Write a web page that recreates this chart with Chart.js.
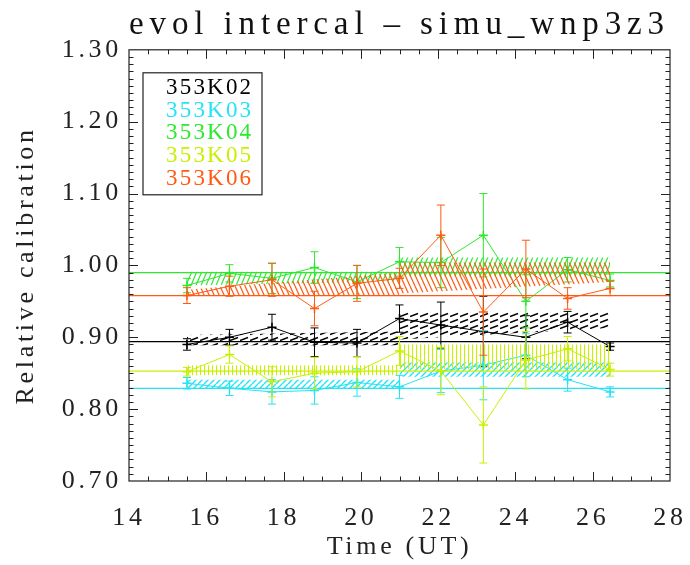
<!DOCTYPE html>
<html>
<head>
<meta charset="utf-8">
<script src="https://cdn.jsdelivr.net/npm/chart.js@4.4.1/dist/chart.umd.min.js"></script>
<style>
  html, body { margin: 0; padding: 0; background: #fff; }
  #wrap { width: 690px; height: 565px; }
</style>
</head>
<body>
<div id="wrap"><canvas id="chart"></canvas></div>
<script>
// time of each measurement (UT)
const times = [15.5, 16.6, 17.7, 18.8, 19.9, 21.0, 22.07, 23.17, 24.27, 25.35, 26.45];
const names = ['353K02', '353K03', '353K04', '353K05', '353K06'];

const k02 = [0.890, 0.900, 0.914, 0.893, 0.892, 0.926, 0.917, 0.908, 0.900, 0.921, 0.887];
const k02Err = [0.008, 0.011, 0.018, 0.020, 0.019, 0.019, 0.032, 0.049, 0.030, 0.015, 0.005];
const k03 = [0.836, 0.829, 0.824, 0.826, 0.837, 0.831, 0.853, 0.861, 0.875, 0.841, 0.824];
const k03Err = [0.008, 0.010, 0.017, 0.019, 0.019, 0.016, 0.030, 0.048, 0.030, 0.016, 0.007];
const k04 = [0.972, 0.989, 0.982, 0.997, 0.977, 1.005, 1.004, 1.042, 0.950, 0.994, 0.979];
const k04Err = [0.010, 0.012, 0.021, 0.022, 0.023, 0.020, 0.035, 0.058, 0.037, 0.017, 0.009];
const k05 = [0.852, 0.876, 0.838, 0.850, 0.852, 0.881, 0.853, 0.778, 0.868, 0.884, 0.855];
const k05Err = [0.006, 0.012, 0.021, 0.022, 0.021, 0.020, 0.033, 0.053, 0.040, 0.017, 0.009];
const k06 = [0.958, 0.971, 0.980, 0.940, 0.975, 0.982, 1.042, 0.935, 0.995, 0.954, 0.968];
const k06Err = [0.011, 0.014, 0.023, 0.024, 0.025, 0.014, 0.042, 0.060, 0.040, 0.015, 0.010];

// overall mean per bolometer (horizontal lines)
const means = [0.894, 0.829, 0.990, 0.853, 0.958];

// hatched bands: two periods, values at [start1, end1, start2, end2]
const bandEdges = [15.5, 21.0, 26.45];
const k02Lo = [0.889, 0.889, 0.897, 0.913];
const k02Hi = [0.903, 0.908, 0.936, 0.936];
const k03Lo = [0.829, 0.829, 0.845, 0.845];
const k03Hi = [0.841, 0.841, 0.865, 0.865];
const k04Lo = [0.972, 0.978, 0.985, 0.985];
const k04Hi = [0.991, 0.991, 1.011, 1.011];
const k05Lo = [0.847, 0.847, 0.856, 0.856];
const k05Hi = [0.861, 0.861, 0.890, 0.890];
const k06Lo = [0.958, 0.958, 0.961, 0.977];
const k06Hi = [0.966, 0.990, 1.004, 1.004];

const xMin = 14, xMax = 28, xStep = 2, xMinor = 0.5;
const yMin = 0.70, yMax = 1.30, yStep = 0.1, yMinor = 0.01;

const FONT = "'Liberation Serif', 'Times New Roman', serif";

function makeHatch(color, kind, w, h, lw) {
  const c = document.createElement('canvas');
  c.width = w; c.height = h;
  const g = c.getContext('2d');
  g.strokeStyle = color;
  g.lineWidth = lw;
  g.beginPath();
  if (kind === 'vert') {
    g.moveTo(0.5, 0); g.lineTo(0.5, h);
  } else if (kind === 'dash') {
    g.moveTo(0, h - 1.5); g.lineTo(w - 2, 1.5);
  } else {
    for (let k = -1; k <= 1; k++) {
      if (kind === 'slash') { g.moveTo(k * w, h); g.lineTo(k * w + w, 0); }
      else { g.moveTo(k * w, 0); g.lineTo(k * w + w, h); }
    }
  }
  g.stroke();
  return g.createPattern(c, 'repeat');
}

const series = [
  { name: names[0], color: '#000000', vals: k02, errs: k02Err, lo: k02Lo, hi: k02Hi, mean: means[0], hatch: ['dash', 10, 6, 1.4] },
  { name: names[1], color: '#25e3f5', vals: k03, errs: k03Err, lo: k03Lo, hi: k03Hi, mean: means[1], hatch: ['slash', 6, 6, 1.4] },
  { name: names[2], color: '#2ee82e', vals: k04, errs: k04Err, lo: k04Lo, hi: k04Hi, mean: means[2], hatch: ['slash', 5, 12, 1.2] },
  { name: names[3], color: '#c8f000', vals: k05, errs: k05Err, lo: k05Lo, hi: k05Hi, mean: means[3], hatch: ['vert', 4, 4, 1.2] },
  { name: names[4], color: '#ff5a14', vals: k06, errs: k06Err, lo: k06Lo, hi: k06Hi, mean: means[4], hatch: ['back', 5, 11, 1.2] }
];

const datasets = [];
for (const s of series) {
  const pattern = makeHatch(s.color, s.hatch[0], s.hatch[1], s.hatch[2], s.hatch[3]);
  for (let seg = 0; seg < 2; seg++) {
    datasets.push({
      data: [{ x: bandEdges[seg], y: s.lo[2 * seg] }, { x: bandEdges[seg + 1], y: s.lo[2 * seg + 1] }],
      borderColor: 'rgba(0,0,0,0)', pointRadius: 0, fill: false
    });
    datasets.push({
      data: [{ x: bandEdges[seg], y: s.hi[2 * seg] }, { x: bandEdges[seg + 1], y: s.hi[2 * seg + 1] }],
      borderColor: 'rgba(0,0,0,0)', pointRadius: 0, fill: '-1', backgroundColor: pattern
    });
  }
  datasets.push({
    data: [{ x: xMin, y: s.mean }, { x: xMax, y: s.mean }],
    borderColor: s.color, borderWidth: 1.2, pointRadius: 0, fill: false
  });
  datasets.push({
    label: s.name,
    data: times.map((t, i) => ({ x: t, y: s.vals[i] })),
    errs: s.errs,
    borderColor: s.color, borderWidth: 1, fill: false,
    pointStyle: 'cross', pointRadius: 4.5, pointBorderWidth: 1.5,
    pointBorderColor: s.color
  });
}
// later datasets painted on top
datasets.forEach((d, i) => { d.order = -i; });

const errorBars = {
  id: 'errorBars',
  afterDatasetDraw(chart, args) {
    const ds = chart.data.datasets[args.index];
    if (!ds.errs) return;
    const xs = chart.scales.x, ys = chart.scales.y, ctx = chart.ctx;
    ctx.save();
    ctx.strokeStyle = ds.borderColor;
    ctx.lineWidth = 1;
    ds.data.forEach((p, i) => {
      const px = xs.getPixelForValue(p.x);
      const top = ys.getPixelForValue(p.y + ds.errs[i]);
      const bot = ys.getPixelForValue(p.y - ds.errs[i]);
      ctx.beginPath();
      ctx.moveTo(px, top); ctx.lineTo(px, bot);
      ctx.moveTo(px - 4, top); ctx.lineTo(px + 4, top);
      ctx.moveTo(px - 4, bot); ctx.lineTo(px + 4, bot);
      ctx.stroke();
    });
    ctx.restore();
  }
};

// text spacing per drawing phase (title, then axes)
const spacing = {
  id: 'spacing',
  beforeDraw(chart) { chart.ctx.letterSpacing = '6px'; },
  beforeDatasetsDraw(chart) { chart.ctx.letterSpacing = '0px'; },
  afterDatasetsDraw(chart) { chart.ctx.letterSpacing = '3.7px'; }
};

// box frame with inward ticks on all sides
const frame = {
  id: 'frame',
  afterDraw(chart) {
    const { ctx, chartArea: a } = chart;
    const xs = chart.scales.x, ys = chart.scales.y;
    ctx.save();
    ctx.strokeStyle = '#222';
    ctx.lineWidth = 1.2;
    ctx.strokeRect(a.left, a.top, a.right - a.left, a.bottom - a.top);
    ctx.lineWidth = 1;
    ctx.beginPath();
    const nx = Math.round((xMax - xMin) / xMinor);
    for (let i = 1; i < nx; i++) {
      const v = xMin + i * xMinor;
      const len = (i % Math.round(xStep / xMinor) === 0) ? 9 : 4.5;
      const px = Math.round(xs.getPixelForValue(v)) + 0.5;
      ctx.moveTo(px, a.bottom); ctx.lineTo(px, a.bottom - len);
      ctx.moveTo(px, a.top); ctx.lineTo(px, a.top + len);
    }
    const ny = Math.round((yMax - yMin) / yMinor);
    for (let i = 1; i < ny; i++) {
      const v = yMin + i * yMinor;
      const len = (i % Math.round(yStep / yMinor) === 0) ? 9 : 4.5;
      const py = Math.round(ys.getPixelForValue(v)) + 0.5;
      ctx.moveTo(a.left, py); ctx.lineTo(a.left + len, py);
      ctx.moveTo(a.right, py); ctx.lineTo(a.right - len, py);
    }
    ctx.stroke();
    ctx.restore();
  }
};

const legendBox = {
  id: 'legendBox',
  afterDraw(chart) {
    const { ctx, chartArea: a } = chart;
    const left = a.left + 14, top = a.top + 23;
    ctx.save();
    ctx.letterSpacing = '2.2px';
    ctx.strokeStyle = '#222';
    ctx.lineWidth = 1.2;
    ctx.strokeRect(left, top, 119, 122);
    ctx.font = '23px ' + FONT;
    ctx.textBaseline = 'middle';
    ctx.textAlign = 'left';
    series.forEach((s, i) => {
      ctx.fillStyle = s.color;
      ctx.fillText(s.name, left + 23, top + 15 + i * 22.7);
    });
    ctx.restore();
  }
};

new Chart(document.getElementById('chart'), {
  type: 'line',
  data: { datasets },
  plugins: [spacing, errorBars, frame, legendBox],
  options: {
    responsive: true,
    maintainAspectRatio: false,
    animation: false,
    layout: { padding: { left: 0, right: 20, top: 0, bottom: 0 } },
    elements: { line: { tension: 0 } },
    plugins: {
      legend: { display: false },
      tooltip: { enabled: false },
      title: {
        display: true,
        fullSize: false,
        text: 'evol intercal – simu_wnp3z3',
        color: '#111',
        font: { family: FONT, size: 34, weight: 'normal' },
        padding: { top: 5, bottom: 4 }
      }
    },
    scales: {
      x: {
        type: 'linear', min: xMin, max: xMax,
        afterFit(s) { s.height = 84; s.paddingLeft = 0; s.paddingRight = 0; },
        ticks: { stepSize: xStep, maxRotation: 0, autoSkip: false, padding: 22, color: '#222', z: 1,
                 font: { family: FONT, size: 26 } },
        grid: { display: false, drawTicks: false, z: 1 },
        border: { display: false },
        title: { display: true, text: 'Time (UT)', color: '#222', font: { family: FONT, size: 26 },
                 padding: { top: 0, bottom: 2 } }
      },
      y: {
        type: 'linear', min: yMin, max: yMax,
        afterFit(s) { s.width = 129; },
        ticks: { stepSize: yStep, padding: 7, color: '#222', z: 1,
                 font: { family: FONT, size: 26 },
                 callback: v => v.toFixed(2) },
        grid: { display: false, drawTicks: false, z: 1 },
        border: { display: false },
        title: { display: true, text: 'Relative calibration', color: '#222', font: { family: FONT, size: 26 },
                 padding: { top: 11, bottom: 0 } }
      }
    }
  }
});
</script>
</body>
</html>
